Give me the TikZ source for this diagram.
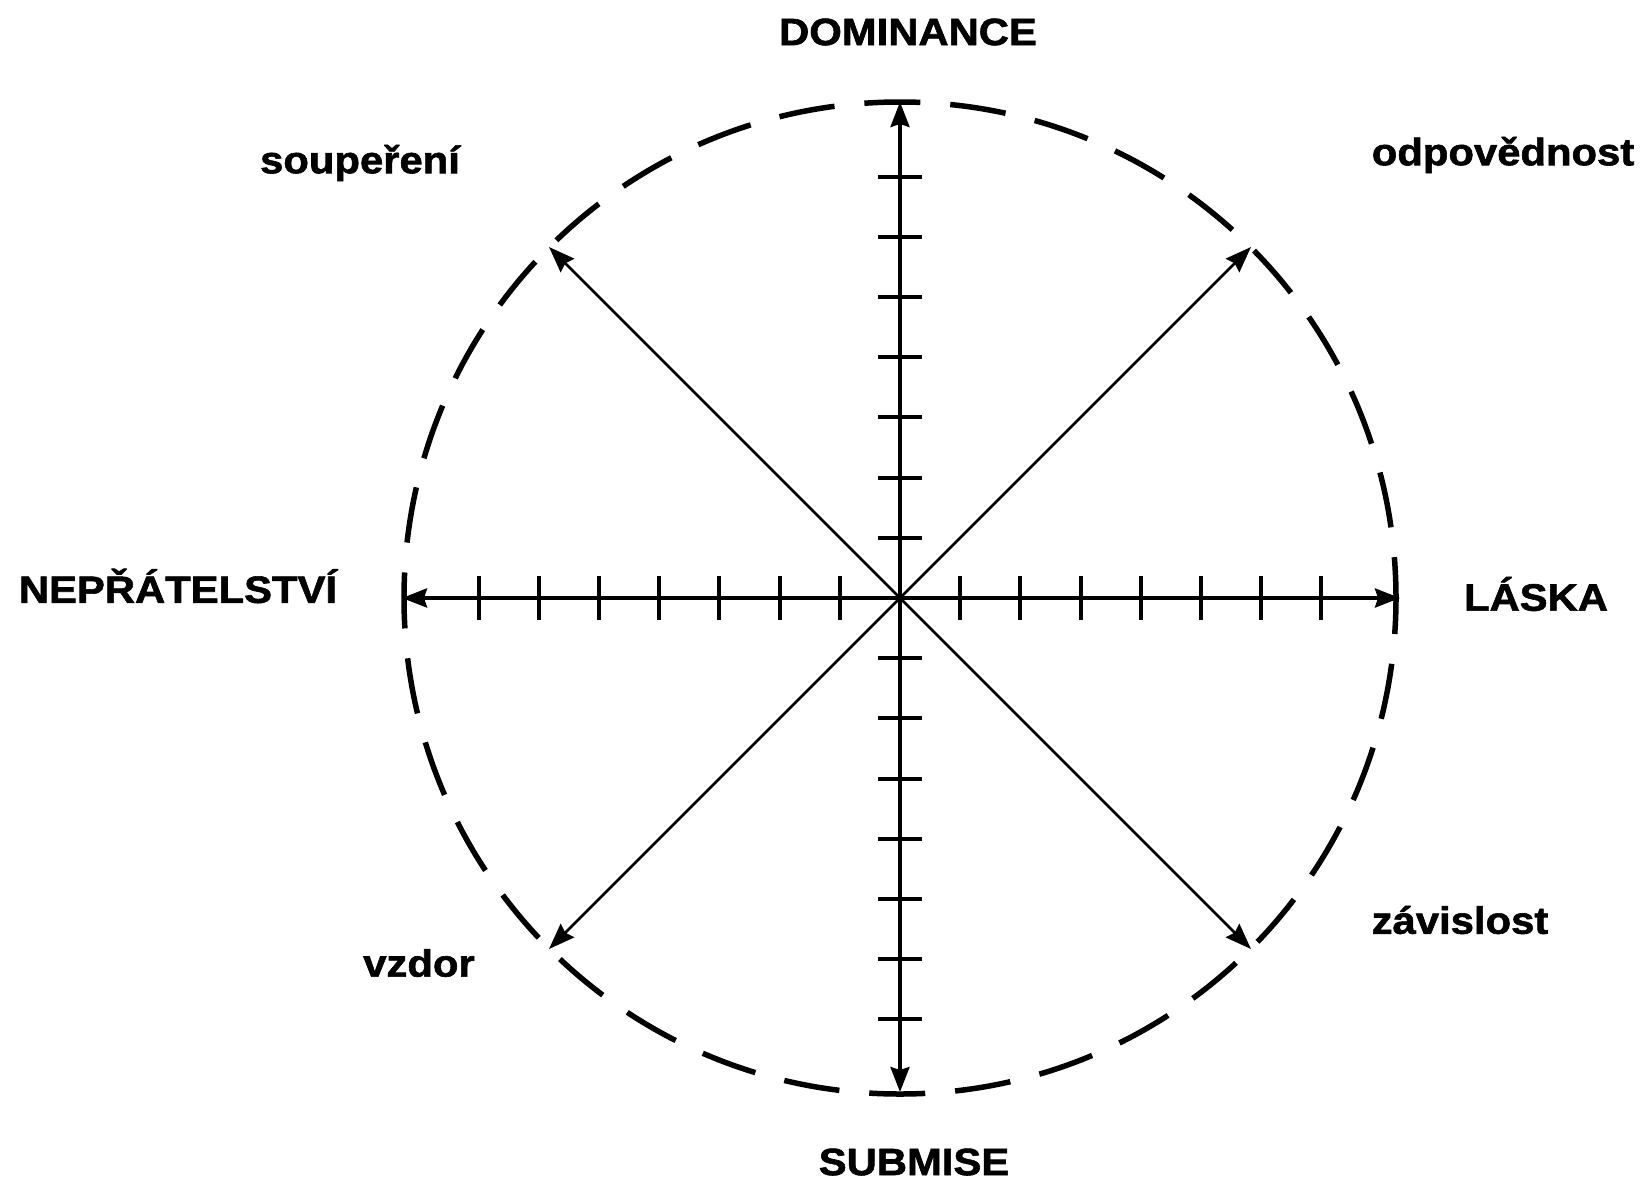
\documentclass[tikz,border=0pt]{standalone}
\usepackage{fontspec}
\newfontfamily\labfont[FakeStretch=1.1,FakeBold=1.6]{Liberation Sans}
\usetikzlibrary{arrows.meta}
\begin{document}
\begin{tikzpicture}[x=1pt,y=-1pt,
  lab/.style={font=\labfont\bfseries\fontsize{38}{40}\selectfont, inner sep=0pt},
  axis/.style={line width=3.6pt, -{Stealth[length=25pt,width=19pt,inset=3pt]}},
  diag/.style={line width=2.8pt, -{Stealth[length=26pt,width=19pt,inset=3pt]}},
  tick/.style={line width=4pt},
  ring/.style={line width=5.5pt, dash pattern=on 56pt off 30pt, dash phase=20pt}]
\useasboundingbox (0,0) rectangle (1644,1181);
\coordinate (C) at (900,598);
\draw[ring] (C) circle[radius=496];
\coordinate (N) at (900,102);
\coordinate (S) at (900,1092);
\coordinate (W) at (402,598);
\coordinate (E) at (1400,598);
\coordinate (NE) at (1251,247);
\coordinate (NW) at (549,247);
\coordinate (SE) at (1251,949);
\coordinate (SW) at (549,949);
\draw[axis] (C) -- (N);
\draw[axis] (C) -- (S);
\draw[axis] (C) -- (W);
\draw[axis] (C) -- (E);
\draw[diag] (C) -- (NE);
\draw[diag] (C) -- (NW);
\draw[diag] (C) -- (SE);
\draw[diag] (C) -- (SW);
\foreach \k in {1,...,7}{
  \draw[tick] ([xshift=-22pt,yshift=60.2*\k pt]C) -- ([xshift=22pt,yshift=60.2*\k pt]C);
  \draw[tick] ([xshift=-22pt,yshift=-60.2*\k pt]C) -- ([xshift=22pt,yshift=-60.2*\k pt]C);
  \draw[tick] ([yshift=-22pt,xshift=60.2*\k pt]C) -- ([yshift=22pt,xshift=60.2*\k pt]C);
  \draw[tick] ([yshift=-22pt,xshift=-60.2*\k pt]C) -- ([yshift=22pt,xshift=-60.2*\k pt]C);
}
\node[lab] (dom) at (908,32) {DOMINANCE};
\node[lab] (sub) at (914,1162) {SUBMISE};
\node[lab] (nep) at (178,586) {NEPŘÁTELSTVÍ};
\node[lab] (las) at (1536,594) {LÁSKA};
\node[lab] (sou) at (360,163) {soupeření};
\node[lab] (odp) at (1503,155) {odpovědnost};
\node[lab] (vzd) at (419,963) {vzdor};
\node[lab] (zav) at (1460,920) {závislost};
\end{tikzpicture}
\end{document}
